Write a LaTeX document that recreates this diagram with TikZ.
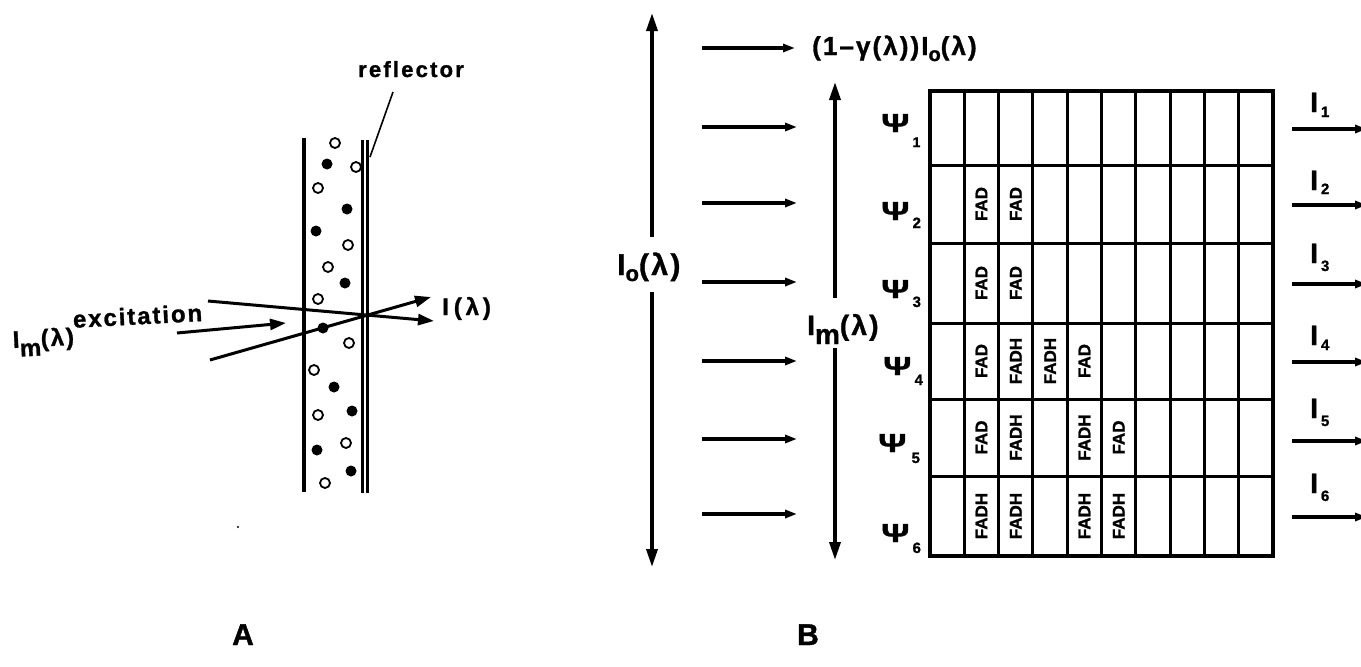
\documentclass[tikz,border=0pt]{standalone}
\usepackage{fontspec}
\setmainfont{Liberation Sans}[BoldFeatures={FakeBold=1.2}]
\newfontfamily\lsA{Liberation Sans}[LetterSpace=10,BoldFeatures={FakeBold=1.2}]
\newfontfamily\lsB{Liberation Sans}[LetterSpace=8,BoldFeatures={FakeBold=1.2}]
\newfontfamily\lsC{Liberation Sans}[LetterSpace=16,BoldFeatures={FakeBold=1.2}]
\newfontfamily\lsD{Liberation Sans}[LetterSpace=8,BoldFeatures={FakeBold=1.2}]
\usetikzlibrary{arrows.meta}
\newcommand{\fsz}[1]{\fontsize{#1}{#1}\selectfont}
\tikzset{
  lbl/.style={inner sep=0pt, anchor=base west, font=\bfseries},
  wall/.style={line width=3.5pt},
  refl/.style={line width=2.5pt},
  ray/.style={line width=3pt, -{Triangle[length=16pt,width=11pt]}},
  harrow/.style={line width=3.3pt, -{Triangle[length=12pt,width=8pt]}},
  varrow/.style={line width=3.5pt, -{Triangle[length=18pt,width=11pt]}},
  gridl/.style={line width=3pt},
  opencirc/.style={line width=1.8pt},
  cell/.style={inner sep=0pt, rotate=90, font=\bfseries\fsz{17}},
}
\begin{document}
\begin{tikzpicture}[x=1pt,y=-1pt]
\useasboundingbox (0,0) rectangle (1361,667);

% ---------------- Panel A ----------------
\draw[wall] (304,138) -- (304,492);
\draw[refl] (362.5,140) -- (362.5,493);
\draw[refl] (367.5,140) -- (367.5,493);
\node[lbl] (reflbl) at (358,77) {\lsA\bfseries\fsz{22}reflector};
\coordinate (rp1) at (393,92);
\coordinate (rp2) at (370,157);
\draw[line width=1.6pt] (rp1) -- (rp2);

\foreach \p in {(335,143),(356,167),(318,188),(348,245),(328,267),(318,299),(349,343),(314,370),(318,415),(346,443),(325,483)}
  \draw[opencirc] \p circle[radius=5pt];
\foreach \p in {(327,164),(347,209),(316,231),(345,283),(323,328),(334,387),(352,411),(317,450),(351,471)}
  \fill \p circle[radius=5.5pt];

\coordinate (r1s) at (208,301);
\coordinate (r1e) at (434,321);
\coordinate (r2s) at (210,360);
\coordinate (r2e) at (431,297);
\coordinate (r3s) at (177,333);
\coordinate (r3e) at (286,323);
\draw[ray] (r1s) -- (r1e);
\draw[ray] (r2s) -- (r2e);
\draw[ray] (r3s) -- (r3e);

\node[lbl, rotate=3] (exc) at (13,348) {\lsB\bfseries\fsz{24}I\raisebox{-9pt}{m}(λ)\raisebox{17pt}{excitation}};
\node[lbl] (il) at (442,315) {\lsC\bfseries\fsz{24}I\hspace{5pt}(λ)};
\fill (238,527) circle[radius=1.2pt];

\node[inner sep=0pt, anchor=base, font=\bfseries\fsz{30}] (A) at (243,645) {A};

% ---------------- Panel B ----------------
% big Io arrow
\node[lbl] (Io) at (617,275) {\lsD\bfseries\fsz{30}I\raisebox{-6pt}{\fsz{22}o}(λ)};
\coordinate (IoT) at (652,13);
\coordinate (IoA) at (652,237);
\coordinate (IoB) at (652,292);
\coordinate (IoD) at (652,567);
\draw[varrow] (IoA) -- (IoT);
\draw[varrow] (IoB) -- (IoD);

% Im arrow
\node[lbl] (Im) at (807,335) {\lsD\bfseries\fsz{28}I\raisebox{-9pt}{m}(λ)};
\coordinate (ImT) at (835,82);
\coordinate (ImA) at (835,298);
\coordinate (ImB) at (835,348);
\coordinate (ImD) at (835,560);
\draw[varrow] (ImA) -- (ImT);
\draw[varrow] (ImB) -- (ImD);

% horizontal incoming arrows
\coordinate (h0s) at (702,48);  \coordinate (h0e) at (795,48);
\draw[harrow] (h0s) -- (h0e);
\node[lbl] (toplbl) at (812,55) {\lsD\bfseries\fsz{26}(1–γ(λ))I\raisebox{-6pt}{\fsz{20}o}(λ)};
\foreach \y [count=\i] in {127,203,282,361,439,514} {
  \coordinate (h\i s) at (702,\y);
  \coordinate (h\i e) at (797,\y);
  \draw[harrow] (h\i s) -- (h\i e);
}

% Psi labels
\node[lbl] (psi1) at (881,132) {\fsz{26}\scalebox{1.35}[1]{Ψ}\hspace{3pt}\raisebox{-15pt}{\fsz{14}1}};
\node[lbl] (psi2) at (881,220) {\fsz{26}\scalebox{1.35}[1]{Ψ}\hspace{3pt}\raisebox{-8pt}{\fsz{15}2}};
\node[lbl] (psi3) at (881,298) {\fsz{26}\scalebox{1.35}[1]{Ψ}\hspace{3pt}\raisebox{-9pt}{\fsz{15}3}};
\node[lbl] (psi4) at (883,375) {\fsz{26}\scalebox{1.35}[1]{Ψ}\hspace{3pt}\raisebox{-10pt}{\fsz{15}4}};
\node[lbl] (psi5) at (878,452) {\fsz{26}\scalebox{1.35}[1]{Ψ}\hspace{5pt}\raisebox{-11pt}{\fsz{15}5}};
\node[lbl] (psi6) at (881,542) {\fsz{26}\scalebox{1.35}[1]{Ψ}\hspace{3pt}\raisebox{-11pt}{\fsz{15}6}};

% grid
\draw[line width=3.8pt] (930,91) rectangle (1273,556);
\foreach \y in {165,243,323,399,476}
  \draw[gridl] (930,\y) -- (1273,\y);
\foreach \i in {1,...,9}
  \draw[gridl] ({930+\i*34.3},91) -- ({930+\i*34.3},556);

% cell labels
\node[cell] (c22) at (981.5,204) {FAD};
\node[cell] (c23) at (1015.8,204) {FAD};
\node[cell] (c32) at (981.5,283) {FAD};
\node[cell] (c33) at (1015.8,283) {FAD};
\node[cell] (c42) at (981.5,361) {FAD};
\node[cell] (c43) at (1015.8,361) {FADH};
\node[cell] (c44) at (1050.1,361) {FADH};
\node[cell] (c45) at (1084.4,361) {FAD};
\node[cell] (c52) at (981.5,437.5) {FAD};
\node[cell] (c53) at (1015.8,437.5) {FADH};
\node[cell] (c55) at (1084.4,437.5) {FADH};
\node[cell] (c56) at (1118.7,437.5) {FAD};
\node[cell] (c62) at (981.5,516) {FADH};
\node[cell] (c63) at (1015.8,516) {FADH};
\node[cell] (c65) at (1084.4,516) {FADH};
\node[cell] (c66) at (1118.7,516) {FADH};

% outgoing arrows
\foreach \y/\b/\d [count=\i] in {129/112/5,205/190/4,284/263/8,362/345/5,441/418/8,517/493/8} {
  \coordinate (o\i s) at (1292,\y);
  \coordinate (o\i e) at (1367,\y);
  \draw[harrow] (o\i s) -- (o\i e);
  \node[lbl] (I\i) at (1310,\b) {\fsz{28}I\hspace{3pt}\raisebox{-\d pt}{\fsz{15}\i}};
}

\node[inner sep=0pt, anchor=base, font=\bfseries\fsz{30}] (B) at (808,645) {B};
\end{tikzpicture}
\end{document}
